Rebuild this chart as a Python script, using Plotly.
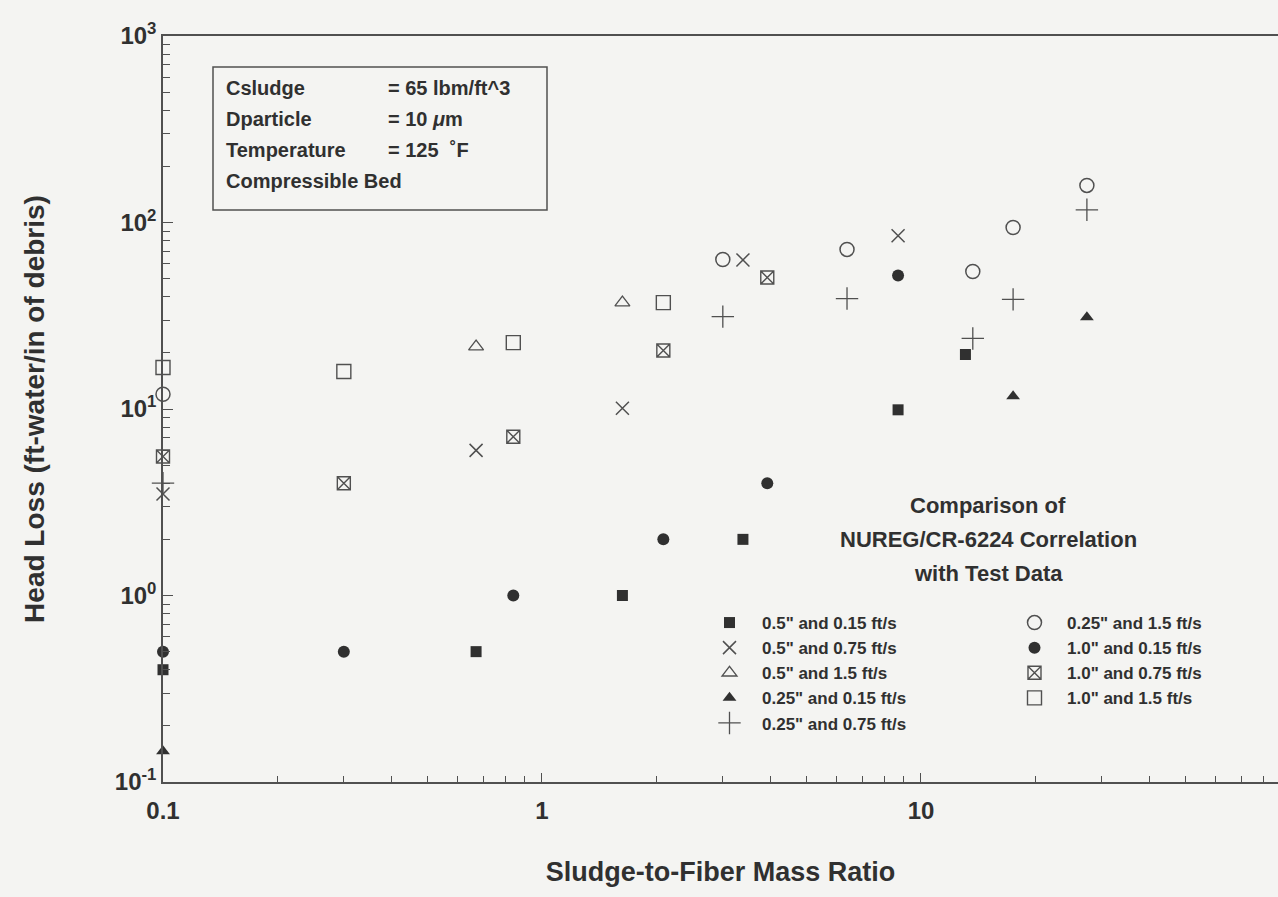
import plotly.graph_objects as go

# ---- data ----
x_05_015 = [0.1, 0.67, 1.63, 3.39, 8.7, 13.1]
y_05_015 = [0.40, 0.50, 1.0, 2.0, 9.9, 19.6]
x_05_075 = [0.1, 0.67, 1.63, 3.39, 8.7]
y_05_075 = [3.5, 6.0, 10.1, 63.0, 85.0]
x_05_15 = [0.67, 1.63]
y_05_15 = [21.6, 37.2]
x_025_015 = [0.1, 17.5, 27.4]
y_025_015 = [0.146, 11.7, 31.0]
x_025_075 = [0.1, 3.0, 6.38, 13.7, 17.5, 27.4]
y_025_075 = [4.0, 31.3, 39.1, 23.9, 38.7, 117.0]
x_025_15 = [0.1, 3.0, 6.38, 13.7, 17.5, 27.4]
y_025_15 = [12.0, 63.3, 71.7, 54.6, 94.0, 158.0]
x_10_015 = [0.1, 0.3, 0.84, 2.09, 3.93, 8.7]
y_10_015 = [0.50, 0.50, 1.0, 2.0, 4.0, 52.0]
x_10_075 = [0.1, 0.3, 0.84, 2.09, 3.93]
y_10_075 = [5.56, 4.0, 7.1, 20.6, 50.7]
x_10_15 = [0.1, 0.3, 0.84, 2.09]
y_10_15 = [16.7, 15.9, 22.7, 37.2]

x_tickvals = [0.1, 1, 10]
x_ticktext = ["0.1", "1", "10"]
y_tickvals = [0.1, 1, 10, 100, 1000]
y_ticktext = ["10<sup>-1</sup>", "10<sup>0</sup>", "10<sup>1</sup>", "10<sup>2</sup>", "10<sup>3</sup>"]

# ---- layout constants ----
W, H = 1278, 897
L, R, T, B = 163, 0, 36, 115
PW, PH = W - L - R, H - T - B
BG = "#f4f4f2"
INK = "#303030"
GREY = "#505050"
FONT = "Liberation Sans, Arial, sans-serif"


def px2paper_x(px):
    return (px - L) / PW


def px2paper_y(py):
    return (H - B - py) / PH


fig = go.Figure()

series = [
    ("0.5\" and 0.15 ft/s", x_05_015, y_05_015, dict(symbol="square", size=11, color=INK), "legend"),
    ("0.5\" and 0.75 ft/s", x_05_075, y_05_075, dict(symbol="x-thin-open", size=13, color=GREY, line=dict(width=1.5, color=GREY)), "legend"),
    ("0.5\" and 1.5 ft/s", x_05_15, y_05_15, dict(symbol="triangle-up-open", size=13, color=GREY, line=dict(width=1.3, color=GREY)), "legend"),
    ("0.25\" and 0.15 ft/s", x_025_015, y_025_015, dict(symbol="triangle-up", size=12, color=INK), "legend"),
    ("0.25\" and 0.75 ft/s", x_025_075, y_025_075, dict(symbol="cross-thin-open", size=16, color=GREY, line=dict(width=1.3, color=GREY)), "legend"),
    ("0.25\" and 1.5 ft/s", x_025_15, y_025_15, dict(symbol="circle-open", size=14, color=GREY, line=dict(width=1.5, color=GREY)), "legend2"),
    ("1.0\" and 0.15 ft/s", x_10_015, y_10_015, dict(symbol="circle", size=12, color=INK), "legend2"),
    ("1.0\" and 0.75 ft/s", x_10_075, y_10_075, dict(symbol="square-x-open", size=13, color=GREY, line=dict(width=1.4, color=GREY)), "legend2"),
    ("1.0\" and 1.5 ft/s", x_10_15, y_10_15, dict(symbol="square-open", size=14, color=GREY, line=dict(width=1.4, color=GREY)), "legend2"),
]

for name, xs, ys, mk, lg in series:
    fig.add_trace(go.Scatter(x=xs, y=ys, mode="markers", name=name, marker=mk,
                             legend=lg, cliponaxis=False))

# minor tick positions
x_minor = [m * 10.0 ** k for k in (-1, 0, 1) for m in range(2, 10)]
y_minor = [m * 10.0 ** k for k in (-1, 0, 1, 2) for m in range(2, 10)]

fig.update_xaxes(
    type="log", range=[-1, 1.942],
    tickvals=x_tickvals, ticktext=x_ticktext,
    ticks="inside", ticklen=9, tickwidth=1.2, tickcolor=GREY,
    minor=dict(tickvals=x_minor, ticks="inside", ticklen=6, tickwidth=1.2, tickcolor=GREY),
    showline=True, linecolor=GREY, linewidth=1.5, mirror=True,
    showgrid=False, zeroline=False, ticklabelstandoff=6,
    tickfont=dict(family=FONT, size=24, color=INK, weight="bold"),
    title=dict(text="Sludge-to-Fiber Mass Ratio", font=dict(family=FONT, size=27, color=INK, weight="bold"), standoff=40),
)
fig.update_yaxes(
    type="log", range=[-1, 3],
    tickvals=y_tickvals, ticktext=y_ticktext,
    ticks="inside", ticklen=10, tickwidth=1.2, tickcolor=GREY,
    minor=dict(tickvals=y_minor, ticks="inside", ticklen=7, tickwidth=1.2, tickcolor=GREY),
    showline=True, linecolor=GREY, linewidth=1.5, mirror=False,
    showgrid=False, zeroline=False,
    tickfont=dict(family=FONT, size=24, color=INK, weight="bold"),
    title=dict(text="Head Loss (ft-water/in of debris)", font=dict(family=FONT, size=28, color=INK, weight="bold"), standoff=62),
)

legend_common = dict(
    bgcolor="rgba(0,0,0,0)", borderwidth=0,
    font=dict(family=FONT, size=17, color=INK, weight="bold"),
    xanchor="left", yanchor="top", tracegroupgap=0, itemwidth=55,
)
fig.update_layout(
    legend=dict(x=px2paper_x(697), y=px2paper_y(605), **legend_common),
    legend2=dict(x=px2paper_x(1002), y=px2paper_y(605), **legend_common),
)

# parameter text box
fig.add_shape(type="rect", xref="paper", yref="paper",
              x0=px2paper_x(213), x1=px2paper_x(547), y0=px2paper_y(210), y1=px2paper_y(67),
              line=dict(color=GREY, width=1.5), fillcolor="rgba(0,0,0,0)")
box_left = ["Csludge", "Dparticle", "Temperature", "Compressible Bed"]
box_right = ["= 65 lbm/ft^3", "= 10 <i>\u03bc</i>m", "= 125 \u00a0\u02daF", ""]
box_rows = [88, 119, 150, 181]
for lt, rt, py in zip(box_left, box_right, box_rows):
    fig.add_annotation(xref="paper", yref="paper", x=px2paper_x(224), y=px2paper_y(py),
                       text=lt, showarrow=False, xanchor="left", yanchor="middle",
                       font=dict(family=FONT, size=20, color=INK, weight="bold"))
    if rt:
        fig.add_annotation(xref="paper", yref="paper", x=px2paper_x(386), y=px2paper_y(py),
                           text=rt, showarrow=False, xanchor="left", yanchor="middle",
                           font=dict(family=FONT, size=20, color=INK, weight="bold"))

# comparison title
title_lines = ["Comparison of", "NUREG/CR-6224 Correlation", "with Test Data"]
for txt, py in zip(title_lines, [505, 539, 573]):
    fig.add_annotation(xref="paper", yref="paper", x=px2paper_x(988), y=px2paper_y(py),
                       text=txt, showarrow=False, xanchor="center", yanchor="middle",
                       font=dict(family=FONT, size=22, color=INK, weight="bold"))

fig.update_layout(
    width=W, height=H,
    margin=dict(l=L, r=R, t=T, b=B, pad=0),
    paper_bgcolor=BG, plot_bgcolor=BG,
    showlegend=True,
)

fig.write_html("out.html")
